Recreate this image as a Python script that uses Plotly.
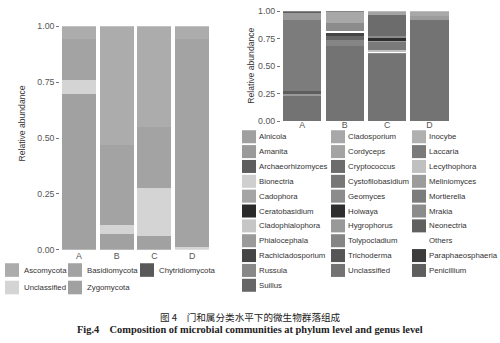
import plotly.graph_objects as go

W, H = 500, 343

samples = ["A", "B", "C", "D"]

# ---- Phylum level (left panel), stacked bottom -> top ----
phyla_stack = ["Zygomycota", "Unclassified", "Chytridiomycota", "Basidiomycota", "Ascomycota"]
phylum_values = {
    "Zygomycota":      [0.696, 0.070, 0.062, 0.000],
    "Unclassified":    [0.065, 0.040, 0.215, 0.013],
    "Chytridiomycota": [0.000, 0.000, 0.000, 0.000],
    "Basidiomycota":   [0.182, 0.360, 0.271, 0.930],
    "Ascomycota":      [0.057, 0.530, 0.452, 0.057],
}
phylum_colors = {
    "Ascomycota": "#acacac", "Basidiomycota": "#a3a3a3", "Chytridiomycota": "#595959",
    "Unclassified": "#d4d4d4", "Zygomycota": "#a1a1a1",
}
phylum_legend_rows = [["Ascomycota", "Basidiomycota", "Chytridiomycota"],
                      ["Unclassified", "Zygomycota"]]

# ---- Genus level (right panel), stacked bottom -> top ----
genus_stack = ["Unclassified", "Trichoderma", "Tolypocladium", "Suillus", "Russula",
               "Rachicladosporium", "Phialocephala", "Penicillium", "Paraphaeosphaeria",
               "Others", "Neonectria", "Mrakia", "Mortierella", "Meliniomyces",
               "Lecythophora", "Laccaria", "Inocybe", "Hygrophorus", "Holwaya", "Geomyces",
               "Cystofilobasidium", "Cryptococcus", "Cordyceps", "Cladosporium",
               "Cladophialophora", "Ceratobasidium", "Cadophora", "Bionectria",
               "Archaeorhizomyces", "Amanita", "Alnicola"]
genus_values = {
    "Unclassified":      [0.226, 0.680, 0.615, 0.925],
    "Tolypocladium":     [0.000, 0.059, 0.000, 0.000],
    "Suillus":           [0.000, 0.040, 0.000, 0.000],
    "Russula":           [0.000, 0.000, 0.007, 0.000],
    "Rachicladosporium": [0.000, 0.020, 0.000, 0.000],
    "Phialocephala":     [0.020, 0.000, 0.000, 0.000],
    "Penicillium":       [0.030, 0.000, 0.000, 0.000],
    "Others":            [0.000, 0.024, 0.012, 0.000],
    "Mrakia":            [0.000, 0.074, 0.000, 0.000],
    "Mortierella":       [0.649, 0.000, 0.000, 0.000],
    "Meliniomyces":      [0.000, 0.000, 0.000, 0.031],
    "Lecythophora":      [0.000, 0.000, 0.012, 0.000],
    "Laccaria":          [0.000, 0.000, 0.073, 0.000],
    "Hygrophorus":       [0.060, 0.000, 0.014, 0.000],
    "Holwaya":           [0.000, 0.000, 0.021, 0.000],
    "Geomyces":          [0.000, 0.000, 0.023, 0.000],
    "Cryptococcus":      [0.000, 0.000, 0.193, 0.000],
    "Cordyceps":         [0.000, 0.000, 0.030, 0.000],
    "Cladosporium":      [0.000, 0.094, 0.000, 0.044],
    "Archaeorhizomyces": [0.015, 0.009, 0.000, 0.000],
}
genus_colors = {
    "Alnicola": "#a0a0a0", "Amanita": "#9a9a9a", "Archaeorhizomyces": "#5e5e5e",
    "Bionectria": "#cfcfcf", "Cadophora": "#a5a5a5", "Ceratobasidium": "#2a2a2a",
    "Cladophialophora": "#c6c6c6", "Phialocephala": "#9a9a9a", "Rachicladosporium": "#454545",
    "Russula": "#888888", "Suillus": "#666666",
    "Cladosporium": "#a8a8a8", "Cordyceps": "#a3a3a3", "Cryptococcus": "#6c6c6c",
    "Cystofilobasidium": "#777777", "Geomyces": "#8c8c8c", "Holwaya": "#2e2e2e",
    "Hygrophorus": "#999999", "Tolypocladium": "#858585", "Trichoderma": "#555555",
    "Unclassified": "#737373",
    "Inocybe": "#b0b0b0", "Laccaria": "#7a7a7a", "Lecythophora": "#c0c0c0",
    "Meliniomyces": "#9c9c9c", "Mortierella": "#7c7c7c", "Mrakia": "#8c8c8c",
    "Neonectria": "#606060", "Others": "#ffffff", "Paraphaeosphaeria": "#3c3c3c",
    "Penicillium": "#5e5e5e",
}
genus_legend_cols = [
    ["Alnicola", "Amanita", "Archaeorhizomyces", "Bionectria", "Cadophora", "Ceratobasidium",
     "Cladophialophora", "Phialocephala", "Rachicladosporium", "Russula", "Suillus"],
    ["Cladosporium", "Cordyceps", "Cryptococcus", "Cystofilobasidium", "Geomyces", "Holwaya",
     "Hygrophorus", "Tolypocladium", "Trichoderma", "Unclassified"],
    ["Inocybe", "Laccaria", "Lecythophora", "Meliniomyces", "Mortierella", "Mrakia",
     "Neonectria", "Others", "Paraphaeosphaeria", "Penicillium"],
]

y_ticks = [0, 0.25, 0.5, 0.75, 1.0]


def px(x):
    return x / W


def py(y):
    return 1 - y / H


fig = go.Figure()
for ph in phyla_stack:
    fig.add_trace(go.Bar(x=samples, y=phylum_values[ph], name=ph,
                         marker=dict(color=phylum_colors[ph], line=dict(width=0)),
                         xaxis="x", yaxis="y", showlegend=False))
for g in genus_stack:
    if g in genus_values:
        fig.add_trace(go.Bar(x=samples, y=genus_values[g], name=g,
                             marker=dict(color=genus_colors[g], line=dict(width=0)),
                             xaxis="x2", yaxis="y2", showlegend=False))

SANS = "Liberation Sans, Arial, sans-serif"
tickfont = dict(family=SANS, size=8.8, color="#555555")
axis_common = dict(showgrid=False, zeroline=False, showline=False)

shapes = []
annotations = []
legend_font = dict(family=SANS, size=7.8, color="#333333")

# left legend
lx_sw = [5, 68, 140]
ly_rows = [273, 291]
for r, row in enumerate(phylum_legend_rows):
    for c, name in enumerate(row):
        x0 = lx_sw[c]
        yc = ly_rows[r]
        shapes.append(dict(type="rect", xref="paper", yref="paper",
                           x0=px(x0), x1=px(x0 + 14), y0=py(yc + 7), y1=py(yc - 7),
                           fillcolor=phylum_colors[name], line=dict(width=0)))
        annotations.append(dict(x=px(x0 + 16.5), y=py(yc), xref="paper", yref="paper",
                                text=name, showarrow=False, xanchor="left", yanchor="middle",
                                font=legend_font))

# right legend
rx_sw = [242, 331, 412]
row0, row_step = 135.7, 15.3
for c, col in enumerate(genus_legend_cols):
    for r, name in enumerate(col):
        x0 = rx_sw[c]
        yc = row0 + r * row_step
        shapes.append(dict(type="rect", xref="paper", yref="paper",
                           x0=px(x0), x1=px(x0 + 14), y0=py(yc + 6.7), y1=py(yc - 6.7),
                           fillcolor=genus_colors[name], line=dict(width=0)))
        annotations.append(dict(x=px(x0 + 15), y=py(yc), xref="paper", yref="paper",
                                text=name, showarrow=False, xanchor="left", yanchor="middle",
                                font=legend_font))

# axis titles
for xx, yy in [(22, 122), (251.5, 63)]:
    annotations.append(dict(x=px(xx), y=py(yy), xref="paper", yref="paper",
                            text="Relative abundance", textangle=-90, showarrow=False,
                            xanchor="center", yanchor="middle",
                            font=dict(family=SANS, size=8.6, color="#333333")))

# caption
annotations.append(dict(x=0.5, y=py(321.5), xref="paper", yref="paper",
                        text="图 4　门和属分类水平下的微生物群落组成", showarrow=False,
                        xanchor="center", yanchor="middle",
                        font=dict(family="Noto Sans CJK SC", size=9.6, color="#222222")))
annotations.append(dict(x=0.5, y=py(334), xref="paper", yref="paper",
                        text="<b>Fig.4    Composition of microbial communities at phylum level and genus level</b>",
                        showarrow=False, xanchor="center", yanchor="middle",
                        font=dict(family="Liberation Serif, Times New Roman, serif",
                                  size=10.4, color="#222222")))

fig.update_layout(
    width=W, height=H,
    margin=dict(l=0, r=0, t=0, b=0),
    paper_bgcolor="white", plot_bgcolor="white",
    barmode="stack", bargap=0.1,
    showlegend=False,
    xaxis=dict(domain=[0.1204, 0.4218], range=[-0.5, 3.5], ticks="", tickfont=tickfont,
               anchor="y", **axis_common),
    yaxis=dict(domain=[py(252), py(22)], range=[0, 1], tickvals=y_ticks, tickformat=".2f",
               ticks="outside", ticklen=3, tickcolor="#777777", tickfont=tickfont,
               anchor="x", **axis_common),
    xaxis2=dict(domain=[0.562, 0.9014], range=[-0.5, 3.5], ticks="", tickfont=tickfont,
                ticklabelstandoff=-3, anchor="y2", **axis_common),
    yaxis2=dict(domain=[py(119.5), py(6.5)], range=[0, 1], tickvals=y_ticks, tickformat=".2f",
                ticks="outside", ticklen=3, tickcolor="#777777", tickfont=tickfont,
                anchor="x2", **axis_common),
    shapes=shapes,
    annotations=annotations,
)

fig.write_html("out.html")
